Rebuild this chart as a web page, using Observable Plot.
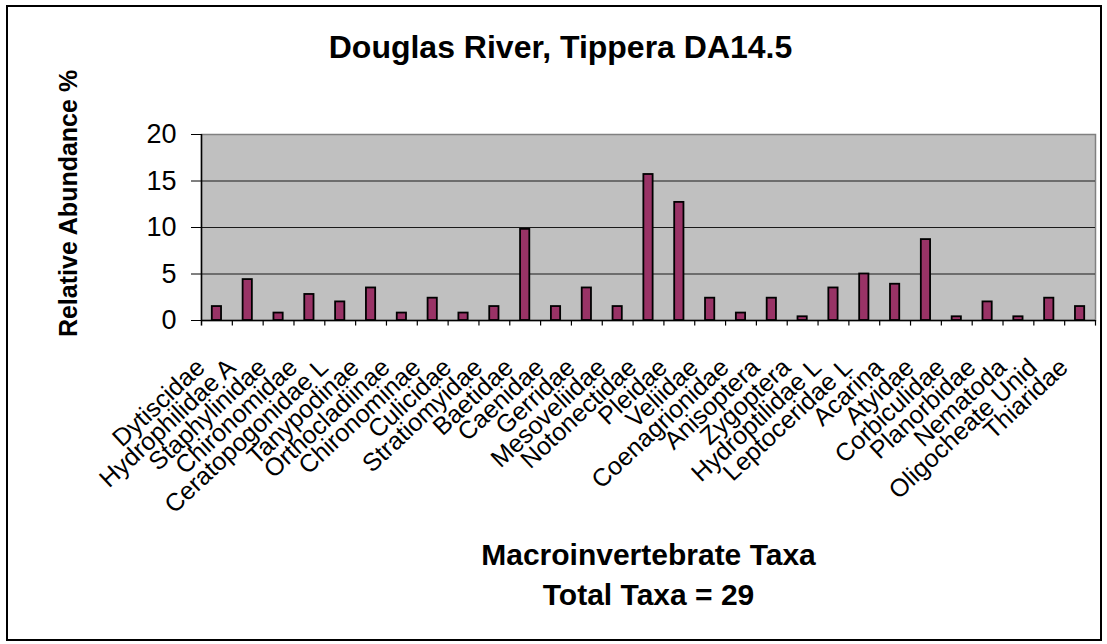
<!DOCTYPE html>
<html>
<head>
<meta charset="utf-8">
<script src="https://cdn.jsdelivr.net/npm/d3@7"></script>
<script src="https://cdn.jsdelivr.net/npm/@observablehq/plot@0.6"></script>
<style>
  html, body { margin: 0; padding: 0; background: #fff; }
  #wrap { position: relative; width: 1107px; height: 644px; overflow: hidden; }
  #border { position: absolute; left: 6px; top: 5px; width: 1092px; height: 632px; border: 2px solid #000; pointer-events: none; }
  svg { font-family: "Liberation Sans", Arial, sans-serif; }
</style>
</head>
<body>
<div id="wrap"><div id="border"></div></div>
<script>
const taxa = ["Dytiscidae","Hydrophilidae A","Staphylinidae","Chironomidae","Ceratopogonidae L","Tanypodinae","Orthocladiinae","Chironominae","Culicidae","Stratiomyidae","Baetidae","Caenidae","Gerridae","Mesoveliidae","Notonectidae","Pleidae","Veliidae","Coenagrionidae","Anisoptera","Zygoptera","Hydroptilidae L","Leptoceridae L","Acarina","Atyidae","Corbiculidae","Planorbidae","Nematoda","Oligocheate Unid","Thiaridae"];
const abundance = [1.5,4.4,0.8,2.8,2.0,3.5,0.8,2.4,0.8,1.5,9.8,1.5,3.5,1.5,15.7,12.7,2.4,0.8,2.4,0.4,3.5,5.0,3.9,8.7,0.4,2.0,0.4,2.4,1.5];
const yTicks = [0,5,10,15,20];
const gridValues = [5,10,15];
const titleText = "Douglas River, Tippera DA14.5";
const yLabel = "Relative Abundance %";
const xLabel1 = "Macroinvertebrate Taxa";
const xLabel2 = "Total Taxa = 29";

const data = taxa.map((t, i) => ({taxon: t, value: abundance[i]}));

const W = 1107, H = 644;
const mL = 201, mR = 12, mT = 134, mB = 324;
const step = (W - mL - mR) / taxa.length;
const barInset = step * 0.35;
const font = "Liberation Sans, Arial, sans-serif";

const chart = Plot.plot({
  width: W,
  height: H,
  marginLeft: mL,
  marginRight: mR,
  marginTop: mT,
  marginBottom: mB,
  style: {fontFamily: font, background: "transparent", overflow: "visible"},
  x: {type: "band", domain: taxa, padding: 0, round: false, axis: null},
  y: {domain: [0, 20], axis: null},
  marks: [
    Plot.frame({fill: "#c0c0c0", stroke: "#808080", strokeWidth: 1.5}),
    Plot.ruleY(gridValues, {stroke: "#1a1a1a", strokeWidth: 1.2}),
    Plot.barY(data, {x: "taxon", y: "value", insetLeft: barInset, insetRight: barInset, fill: "#993366", stroke: "#000", strokeWidth: 1.8}),
    Plot.ruleY([0], {stroke: "#000", strokeWidth: 1.5}),
    // left axis line (extends to the first category tick)
    Plot.ruleX([taxa[0]], {x: d => d, dx: -step / 2, y1: -0.6, y2: 20, stroke: "#000", strokeWidth: 1.5}),
    // category boundary ticks
    Plot.ruleX(taxa, {x: d => d, dx: step / 2, y1: 0, y2: -0.6, stroke: "#000", strokeWidth: 1.2}),
    Plot.axisY(yTicks, {anchor: "left", tickSize: 10, tickPadding: 15, fontSize: 27, label: null, stroke: "#000"}),
    Plot.axisX({anchor: "bottom", tickSize: 0, tickRotate: -43, tickPadding: 43, dx: -16, fontSize: 25, label: null}),
    Plot.text([titleText], {frameAnchor: "top", dx: -88, dy: -77, lineAnchor: "bottom", fontSize: 32, fontWeight: "bold", fill: "#000"}),
    Plot.text([yLabel], {frameAnchor: "left", dx: -133, dy: -24, rotate: -90, textAnchor: "middle", lineAnchor: "middle", fontSize: 25, fontWeight: "bold", fill: "#000"}),
    Plot.text([xLabel1], {frameAnchor: "bottom", dy: 244, lineAnchor: "bottom", fontSize: 30, fontWeight: "bold", fill: "#000"}),
    Plot.text([xLabel2], {frameAnchor: "bottom", dy: 284, lineAnchor: "bottom", fontSize: 30, fontWeight: "bold", fill: "#000"})
  ]
});

document.getElementById("wrap").prepend(chart);
</script>
</body>
</html>
